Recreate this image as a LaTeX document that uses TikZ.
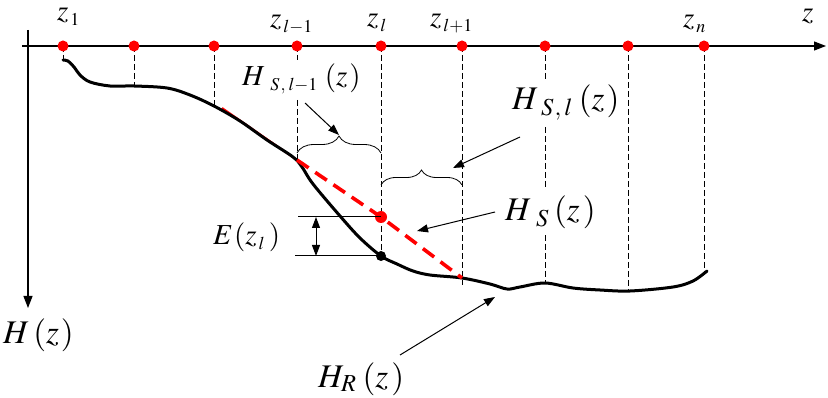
\documentclass[tikz,border=0pt]{standalone}
\usepackage{mathptmx}
\DeclareMathSizes{29}{29}{18}{14}
\usetikzlibrary{arrows.meta,decorations.pathreplacing}
\begin{document}
\begin{tikzpicture}[x=1pt,y=-1pt,
  reddot/.style={circle,fill=red,inner sep=0pt,minimum size=11pt},
  blackdot/.style={circle,fill=black,inner sep=0pt,minimum size=10pt},
  guide/.style={line width=1pt,dash pattern=on 6pt off 3pt},
  ground/.style={line width=3pt,line join=round,line cap=round},
  interp/.style={red,line width=3.6pt,dash pattern=on 14pt off 8pt},
  axis/.style={line width=1.2pt,-{Triangle[length=12pt,width=9pt]}},
  pointer/.style={line width=1pt,-{Triangle[length=11pt,width=8pt]}},
  bracestyle/.style={line width=0.8pt,decorate},
  lblbig/.style={inner xsep=0pt,inner ysep=6pt,anchor=base west,fill=white,font=\fontsize{33}{36}\selectfont},
  lblsmall/.style={inner xsep=0pt,inner ysep=4pt,anchor=base west,fill=white,font=\fontsize{29}{32}\selectfont},
  zlbl/.style={inner sep=0pt,anchor=base west,font=\fontsize{29}{32}\selectfont}]
\useasboundingbox (0,0) rectangle (828,398);

% axes
\coordinate (ox) at (22,46);
\coordinate (zend) at (826,46);
\coordinate (oy) at (28,30);
\coordinate (hend) at (28,308);
\draw[axis] (ox) -- (zend);
\draw[axis] (oy) -- (hend);

% sample points on axis
\foreach \n/\x in {1/63,2/134,3/214,4/297,5/381,6/462,7/545,8/628,9/704}
  \coordinate (p\n) at (\x,46);

% ground points
\coordinate (g1) at (63,60);
\coordinate (g2) at (134,87);
\coordinate (g3) at (214,106);
\coordinate (g4) at (297,160);
\coordinate (g6) at (462,285);
\coordinate (g7) at (545,283);
\coordinate (g8) at (628,290);
\coordinate (g9) at (704,273);
\coordinate (hsl) at (381,217);
\coordinate (hrl) at (381,256);

% guides
\draw[guide] (p1) -- (g1);
\draw[guide] (p2) -- (g2);
\draw[guide,line width=0.7pt] (p3) -- (g3);
\draw[guide] (p4) -- (g4);
\draw[guide] (p5) -- (hrl);
\draw[guide] (p6) -- (g6);
\draw[guide] (p7) -- (g7);
\draw[guide,line width=0.7pt] (p8) -- (g8);
\draw[guide] (p9) -- (g9);

% red interpolation under the curve
\coordinate (r0) at (222,108);
\draw[red,line width=2pt] (r0) -- (g4);

% ground curve H_R
\draw[ground] plot[smooth,tension=0.55] coordinates {
 (63,60) (68,61) (74,67) (80,75) (90,82) (110,86) (134,86) (167,88) (190,95)
 (214,106) (240,121) (267,140) (293,157) (302,167) (313,184) (340,216)
 (360,238) (381,256) (397,264) (413,271) (430,275) (462,278) (490,284)
 (507,289) (520,287) (545,283) (573,288) (600,290) (630,291) (673,287)
 (693,281) (707,271)};

% red dashed interpolation H_S
\coordinate (r6) at (462,278);
\draw[interp] (g4) -- (hsl) -- (r6);

% dots
\foreach \n in {1,...,9}
  \node[reddot] (d\n) at (p\n) {};
\node[reddot,minimum size=12pt] (hs) at (hsl) {};
\node[blackdot] (hr) at (hrl) {};

% E(z_l) marker
\coordinate (e1) at (298,217);
\coordinate (e2) at (295,256);
\coordinate (ea) at (316,217);
\coordinate (eb) at (316,256);
\draw[line width=1pt] (e1) -- (hs.center);
\draw[line width=1pt] (e2) -- (hr.center);
\draw[line width=1pt,{Triangle[length=11pt,width=8pt]}-{Triangle[length=11pt,width=8pt]}] (ea) -- (eb);

% braces
\coordinate (b1a) at (297,153);
\coordinate (b1b) at (381,153);
\coordinate (b2a) at (381,185);
\coordinate (b2b) at (462,185);
\draw[bracestyle,decoration={brace,amplitude=17pt}] (b1a) -- (b1b);
\draw[bracestyle,decoration={brace,amplitude=15pt}] (b2a) -- (b2b);

% labels
\node[zlbl] (lz) at (802,22) {$z$};
\node[zlbl] (lz1) at (57,21) {$z_{\,1}$};
\node[zlbl] (lzl1) at (270,28) {$z_{\,l-1}$};
\node[zlbl] (lzl) at (367,27) {$z_{\,l}$};
\node[zlbl] (lzlp) at (430,27) {$z_{\,l+1}$};
\node[zlbl] (lzn) at (683,28) {$z_{\,n}$};

\node[lblsmall] (lHSl1) at (242,86) {$H_{\hspace{8pt}S\hspace{1pt},\hspace{3pt}l-1}\hspace{7pt}(z\hspace{2pt})$};
\node[lblbig] (lHSl) at (512,110) {$H_{\hspace{6pt}S\hspace{1pt},\hspace{3pt}l}\hspace{6pt}(z\hspace{2pt})$};
\node[lblbig] (lHS) at (505,221) {$H_{\hspace{8pt}S}\hspace{5pt}(z\hspace{3pt})$};
\node[lblbig] (lHR) at (318,387) {$H_{R}\hspace{6pt}(z\hspace{3pt})$};
\node[lblbig] (lH) at (3,344) {$H\hspace{4pt}(z\hspace{2pt})$};
\node[lblsmall,fill=none] (lE) at (213,245) {$E\hspace{1pt}(z_{\,l}\hspace{4pt})$};

% pointers
\coordinate (a1s) at (305,103);
\coordinate (a1e) at (339,135);
\coordinate (a2s) at (520,137);
\coordinate (a2e) at (453,168);
\coordinate (a3s) at (495,212);
\coordinate (a3e) at (417,231);
\coordinate (a4s) at (400,355);
\coordinate (a4e) at (495,297);
\draw[pointer] (a1s) -- (a1e);
\draw[pointer] (a2s) -- (a2e);
\draw[pointer] (a3s) -- (a3e);
\draw[pointer] (a4s) -- (a4e);
\end{tikzpicture}
\end{document}
